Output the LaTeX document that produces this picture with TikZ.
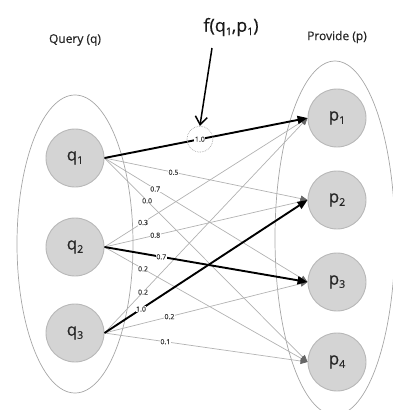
\documentclass[tikz,border=0pt]{standalone}
\usepackage{fontspec}
\setmainfont{Open Sans}[FakeBold=0.5]
\usetikzlibrary{arrows.meta}
\newcommand{\lowidx}[1]{\raisebox{-0.35ex}{\fontsize{10.5}{10.5}\selectfont #1}}
\tikzset{
  x=1pt, y=-1pt,
  vert/.style={circle, draw=black!28, fill=black!17, line width=0.9pt,
    minimum size=58pt, inner sep=0pt, text=black!85, font=\fontsize{17}{17}\selectfont},
  group/.style={draw=black!35, line width=0.7pt},
  weak/.style={draw=black!30, line width=0.7pt,
    -{Triangle[length=7pt,width=6pt,fill=black!60,color=black!60]}},
  strong/.style={draw=black, line width=1.9pt,
    -{Triangle[length=10pt,width=8pt]}},
  wt/.style={fill=white, inner sep=0.5pt, text=black!75,
    font=\fontsize{7}{7}\selectfont},
  heading/.style={font=\fontsize{12}{12}\selectfont, text=black!85}
}
\begin{document}
\begin{tikzpicture}
\useasboundingbox (0,0) rectangle (392,410);

% the two sets
\draw[group] (75,244) ellipse [x radius=58, y radius=149];
\draw[group] (335,238) ellipse [x radius=60, y radius=177];

\node[heading] (qtitle) at (75,40) {Query (q)};
\node[heading] (ptitle) at (337,37) {Provide (p)};

% query vertices
\node[vert] (q1) at (75,158) {q\lowidx{1}};
\node[vert] (q2) at (75,247) {q\lowidx{2}};
\node[vert] (q3) at (75,333) {q\lowidx{3}};

% provider vertices
\node[vert] (p1) at (337,118) {p\lowidx{1}};
\node[vert] (p2) at (337,200) {p\lowidx{2}};
\node[vert] (p3) at (337,282) {p\lowidx{3}};
\node[vert] (p4) at (337,362) {p\lowidx{4}};

% weighted candidate edges
\draw[weak] (q1.east) -- node[wt, pos=0.34] {0.5} (p2.west);
\draw[weak] (q1.east) -- node[wt, pos=0.25] {0.7} (p3.west);
\draw[weak] (q1.east) -- node[wt, pos=0.21] {0.0} (p4.west);
\draw[weak] (q2.east) -- node[wt, pos=0.19] {0.3} (p1.west);
\draw[weak] (q2.east) -- node[wt, pos=0.25] {0.8} (p2.west);
\draw[weak] (q2.east) -- node[wt, pos=0.19] {0.2} (p4.west);
\draw[weak] (q3.east) -- node[wt, pos=0.19] {0.2} (p1.west);
\draw[weak] (q3.east) -- node[wt, pos=0.32] {0.2} (p3.west);
\draw[weak] (q3.east) -- node[wt, pos=0.30] {0.1} (p4.west);

% selected matching
\draw[strong] (q1.east) -- node[wt, pos=0.47] (w11) {1.0} (p1.west);
\draw[strong] (q2.east) -- node[wt, pos=0.28] {0.7} (p3.west);
\draw[strong] (q3.east) -- node[wt, pos=0.18] {1.0} (p2.west);

% highlighted score
\node[circle, draw=black!35, densely dotted, line width=0.7pt,
  minimum size=26pt, inner sep=0pt] (mark) at (w11) {};
\node[font=\fontsize{18}{18}\selectfont, text=black!90] (ftitle) at (231,27) {f(q\lowidx{1},p\lowidx{1})};
\coordinate (fstart) at (212,48);
\draw[line width=1.5pt, -{Straight Barb[length=8pt,width=12pt]}] (fstart) -- (mark.north);
\end{tikzpicture}
\end{document}
